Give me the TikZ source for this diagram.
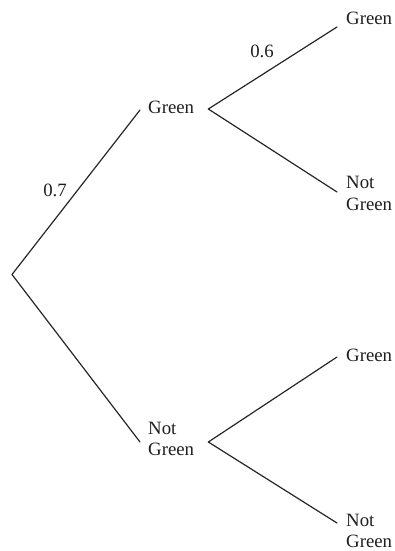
\documentclass[tikz,border=0pt]{standalone}
\usepackage{fontspec}
\setmainfont{Liberation Serif}
\begin{document}
\begin{tikzpicture}[x=1pt,y=-1pt,
  lbl/.style={inner sep=0pt,font=\fontsize{18.8}{21.8}\selectfont,text=black!88},
  stem/.style={line width=1.2pt,draw=black!85,line cap=round}]
\useasboundingbox (0,0) rectangle (395,551);
\coordinate (root) at (12,274.5);
\node[lbl,anchor=west] (g) at (148,107) {Green};
\node[lbl,anchor=west,align=left] (ng) at (148,439) {Not\\Green};
\node[lbl,anchor=west] (gg) at (346,18) {Green};
\node[lbl,anchor=west,align=left] (gn) at (346,193.5) {Not\\Green};
\node[lbl,anchor=west] (ngg) at (346,355) {Green};
\node[lbl,anchor=west,align=left] (ngn) at (346,531) {Not\\Green};
\node[lbl] (p7) at (55,190) {0.7};
\node[lbl] (p6) at (262,51) {0.6};
\draw[stem] (root) -- ([xshift=-8pt,yshift=-3pt]g.west);
\draw[stem] (root) -- ([xshift=-8pt,yshift=-3pt]ng.west);
\draw[stem] ([xshift=14pt,yshift=-2pt]g.east) -- ([xshift=-9pt,yshift=-9pt]gg.west);
\draw[stem] ([xshift=14pt,yshift=-2pt]g.east) -- ([xshift=-9pt,yshift=1.5pt]gn.west);
\draw[stem] ([xshift=14pt,yshift=-3pt]ng.east) -- ([xshift=-9pt,yshift=-2pt]ngg.west);
\draw[stem] ([xshift=14pt,yshift=-3pt]ng.east) -- ([xshift=-9pt,yshift=8pt]ngn.west);
\end{tikzpicture}
\end{document}
